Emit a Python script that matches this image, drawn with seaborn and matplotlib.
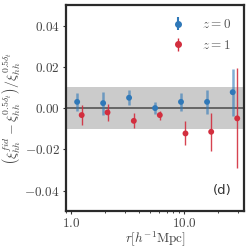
import numpy as np
import pandas as pd
import matplotlib
matplotlib.use("Agg")
import matplotlib.pyplot as plt
from matplotlib.ticker import FuncFormatter, LogLocator, NullFormatter
import seaborn as sns

r_z0 = [1.13, 1.92, 3.26, 5.54, 9.4, 16.0, 27.0]
y_z0 = [0.0030, 0.0024, 0.0050, 0.0000, 0.0030, 0.0030, 0.0077]
e_z0 = [0.0042, 0.0056, 0.0037, 0.0028, 0.0045, 0.0058, 0.0114]

r_z1 = [1.24, 2.10, 3.59, 6.10, 10.3, 17.4, 29.6]
y_z1 = [-0.0034, -0.0021, -0.0062, -0.0034, -0.0123, -0.0115, -0.0050]
e_z1 = [0.0050, 0.0043, 0.0037, 0.0022, 0.0058, 0.0091, 0.0242]

labels = ["$z=0$", "$z=1$"]
xticks = [1.0, 10.0]
yticks = [-0.04, -0.02, 0.0, 0.02, 0.04]

sns.set_style("ticks")
plt.rcParams["mathtext.fontset"] = "cm"
plt.rcParams["font.family"] = ["DejaVu Sans"]

df = pd.concat([
    pd.DataFrame({"r": r_z0, "y": y_z0, "err": e_z0, "z": labels[0]}),
    pd.DataFrame({"r": r_z1, "y": y_z1, "err": e_z1, "z": labels[1]}),
])

blue = "#2f78b8"
red = "#d22e3e"

fig = plt.figure(figsize=(2.49, 2.49), dpi=100)
ax = fig.add_axes([0.265, 0.152, 0.715, 0.828])

ax.axhspan(-0.01, 0.01, color="#cbcbcb", zorder=0, lw=0)
ax.axhline(0.0, color="#555555", lw=1.2, zorder=1)

d0 = df[df.z == labels[0]]
d1 = df[df.z == labels[1]]
ax.errorbar(d0.r, d0.y, yerr=d0.err, fmt="none", ecolor=blue, elinewidth=1.8, alpha=0.6, zorder=2)
ax.errorbar(d1.r, d1.y, yerr=d1.err, fmt="none", ecolor=red, elinewidth=1.0, alpha=0.9, zorder=2)
sns.scatterplot(data=df, x="r", y="y", hue="z", palette=[blue, red], s=18, edgecolor="none",
                legend=False, ax=ax, zorder=3)

handles = []
for c, lw in [(blue, 1.5), (red, 1.0)]:
    h = ax.errorbar([], [], yerr=[], fmt="o", color=c, ms=4, elinewidth=lw)
    handles.append(h)
leg = ax.legend(handles, labels, loc="upper right", frameon=False, fontsize=9.5,
                handletextpad=0.8, borderaxespad=0.6, labelspacing=0.6)
for t in leg.get_texts():
    t.set_color("#555555")

ax.set_xscale("log")
ax.set_xlim(0.9, 34)
ax.set_ylim(-0.05, 0.05)
ax.set_xticks(xticks)
ax.xaxis.set_major_formatter(FuncFormatter(lambda v, p: f"${v:.1f}$"))
ax.xaxis.set_minor_locator(LogLocator(subs=np.arange(2, 10)))
ax.xaxis.set_minor_formatter(NullFormatter())
ax.set_yticks(yticks)
ax.yaxis.set_major_formatter(FuncFormatter(lambda v, p: f"${v:.2f}$"))
ax.tick_params(axis="both", labelsize=9.5, labelcolor="#444444", length=2.5, width=0.8,
               color="#333333", pad=2)
ax.tick_params(axis="x", pad=1.5)
ax.tick_params(axis="x", which="minor", length=1.5, width=0.6)

for s in ax.spines.values():
    s.set_linewidth(1.6)
    s.set_color("#2a2a2a")

ax.set_xlabel(r"$r[h^{-1}{\rm Mpc}]$", fontsize=9.5, color="#444444")
ax.xaxis.set_label_coords(0.5, -0.088)
ax.xaxis.label.set_va("top")
ax.set_ylabel(r"$\left(\xi_{hh}^{fid}-\xi_{hh}^{0.5\delta_t}\right)/\xi_{hh}^{0.5\delta_t}$",
              fontsize=10, color="#444444", labelpad=2)
ax.text(0.93, 0.07, "(d)", transform=ax.transAxes, ha="right", va="bottom", fontsize=9.5, color="#333333")

fig.savefig("out.png", dpi=100)
